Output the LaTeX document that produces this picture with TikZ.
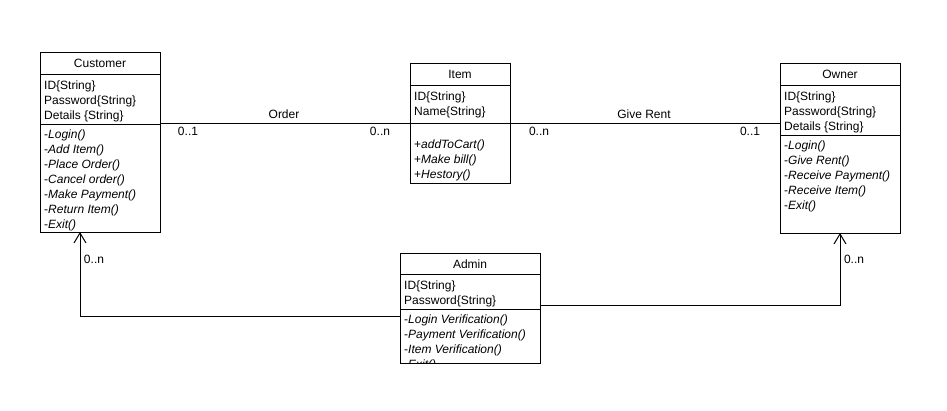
\documentclass[tikz,border=0pt]{standalone}
\usepackage{fontspec}
\setmainfont{Liberation Sans}
\usetikzlibrary{arrows.meta}
\begin{document}
\begin{tikzpicture}[x=1pt,y=-1pt,
  font=\fontsize{12}{15}\selectfont,
  classbox/.style={draw, line width=1pt, anchor=north west, inner sep=0pt, outer sep=0pt, fill=white},
  sep/.style={line width=1pt},
  title/.style={inner sep=0pt, anchor=base},
  member/.style={inner sep=0pt, anchor=base west},
  mult/.style={inner sep=0pt, anchor=base},
  assoc/.style={line width=1pt},
  navig/.style={line width=1pt, -{Straight Barb[length=10pt,width=12pt,line width=1pt]}},
]
\fill[white] (0,0) rectangle (947,410);
\useasboundingbox (0,0) rectangle (947,410);

% ---------- Customer ----------
\node[classbox, minimum width=120pt, minimum height=180pt] (customer) at (40,52) {};
\draw[sep] ([yshift=-22pt]customer.north west) -- ([yshift=-22pt]customer.north east);
\draw[sep] ([yshift=-72pt]customer.north west) -- ([yshift=-72pt]customer.north east);
\node[title] (customer-title) at (100,67.5) {Customer};
\foreach \t [count=\i from 0] in {ID\{String\}, Password\{String\}, Details \{String\}}
  \node[member] (customer-a\i) at (44,{89.5+15*\i}) {\t};
\foreach \t [count=\i from 0] in {-\textit{Login()}, -\textit{Add Item()}, -\textit{Place Order()},
    -\textit{Cancel order()}, -\textit{Make Payment()}, -\textit{Return Item()}, -\textit{Exit()}}
  \node[member] (customer-m\i) at (44,{138.5+15*\i}) {\t};

% ---------- Item ----------
\node[classbox, minimum width=100pt, minimum height=120pt] (item) at (410,63) {};
\draw[sep] ([yshift=-22pt]item.north west) -- ([yshift=-22pt]item.north east);
\draw[sep] ([yshift=-60pt]item.north west) -- ([yshift=-60pt]item.north east);
\node[title] (item-title) at (460,78.5) {Item};
\foreach \t [count=\i from 0] in {ID\{String\}, Name\{String\}}
  \node[member] (item-a\i) at (414,{100.5+15*\i}) {\t};
\foreach \t [count=\i from 0] in {+\textit{addToCart()}, +\textit{Make bill()}, +\textit{Hestory()}}
  \node[member] (item-m\i) at (414,{148+15*\i}) {\t};

% ---------- Owner ----------
\node[classbox, minimum width=120pt, minimum height=170pt] (owner) at (780,63) {};
\draw[sep] ([yshift=-22pt]owner.north west) -- ([yshift=-22pt]owner.north east);
\draw[sep] ([yshift=-72pt]owner.north west) -- ([yshift=-72pt]owner.north east);
\node[title] (owner-title) at (840,78.5) {Owner};
\foreach \t [count=\i from 0] in {ID\{String\}, Password\{String\}, Details \{String\}}
  \node[member] (owner-a\i) at (784,{100.5+15*\i}) {\t};
\foreach \t [count=\i from 0] in {-\textit{Login()}, -\textit{Give Rent()}, -\textit{Receive Payment()},
    -\textit{Receive Item()}, -\textit{Exit()}}
  \node[member] (owner-m\i) at (784,{149.5+15*\i}) {\t};

% ---------- Admin ----------
\node[classbox, minimum width=140pt, minimum height=110pt] (admin) at (400,253) {};
\draw[sep] ([yshift=-21pt]admin.north west) -- ([yshift=-21pt]admin.north east);
\draw[sep] ([yshift=-56pt]admin.north west) -- ([yshift=-56pt]admin.north east);
\node[title] (admin-title) at (470,268) {Admin};
\foreach \t [count=\i from 0] in {ID\{String\}, Password\{String\}}
  \node[member] (admin-a\i) at (404,{289.5+15*\i}) {\t};
% the method list overflows the box and is cut off at its lower edge
\begin{scope}
  \clip (admin.north west) rectangle (admin.south east);
  \foreach \t [count=\i from 0] in {-\textit{Login Verification()}, -\textit{Payment Verification()},
      -\textit{Item Verification()}, -\textit{Exit()}}
    \node[member] (admin-m\i) at (404,{323.5+15*\i}) {\t};
\end{scope}
\draw[line width=1pt] (admin.north west) rectangle (admin.south east);

% ---------- Associations ----------
\draw[assoc] (customer.east |- item.west) -- (item.west);
\node[mult] (order) at (284,118.5) {Order};
\node[mult] (order-src) at (188,135.5) {0..1};
\node[mult] (order-dst) at (380,135.5) {0..n};

\draw[assoc] (item.east) -- (item.east -| owner.west);
\node[mult] (rent) at (644,118.5) {Give Rent};
\node[mult] (rent-src) at (539,135.5) {0..n};
\node[mult] (rent-dst) at (750,135.5) {0..1};

\draw[navig] ([yshift=-8pt]admin.west) -| ([xshift=-20pt]customer.south);
\node[mult] (admin-cust) at (94,263.5) {0..n};
\draw[navig] ([yshift=3pt]admin.east) -| (owner.south);
\node[mult] (admin-owner) at (854,263.5) {0..n};
\end{tikzpicture}
\end{document}
